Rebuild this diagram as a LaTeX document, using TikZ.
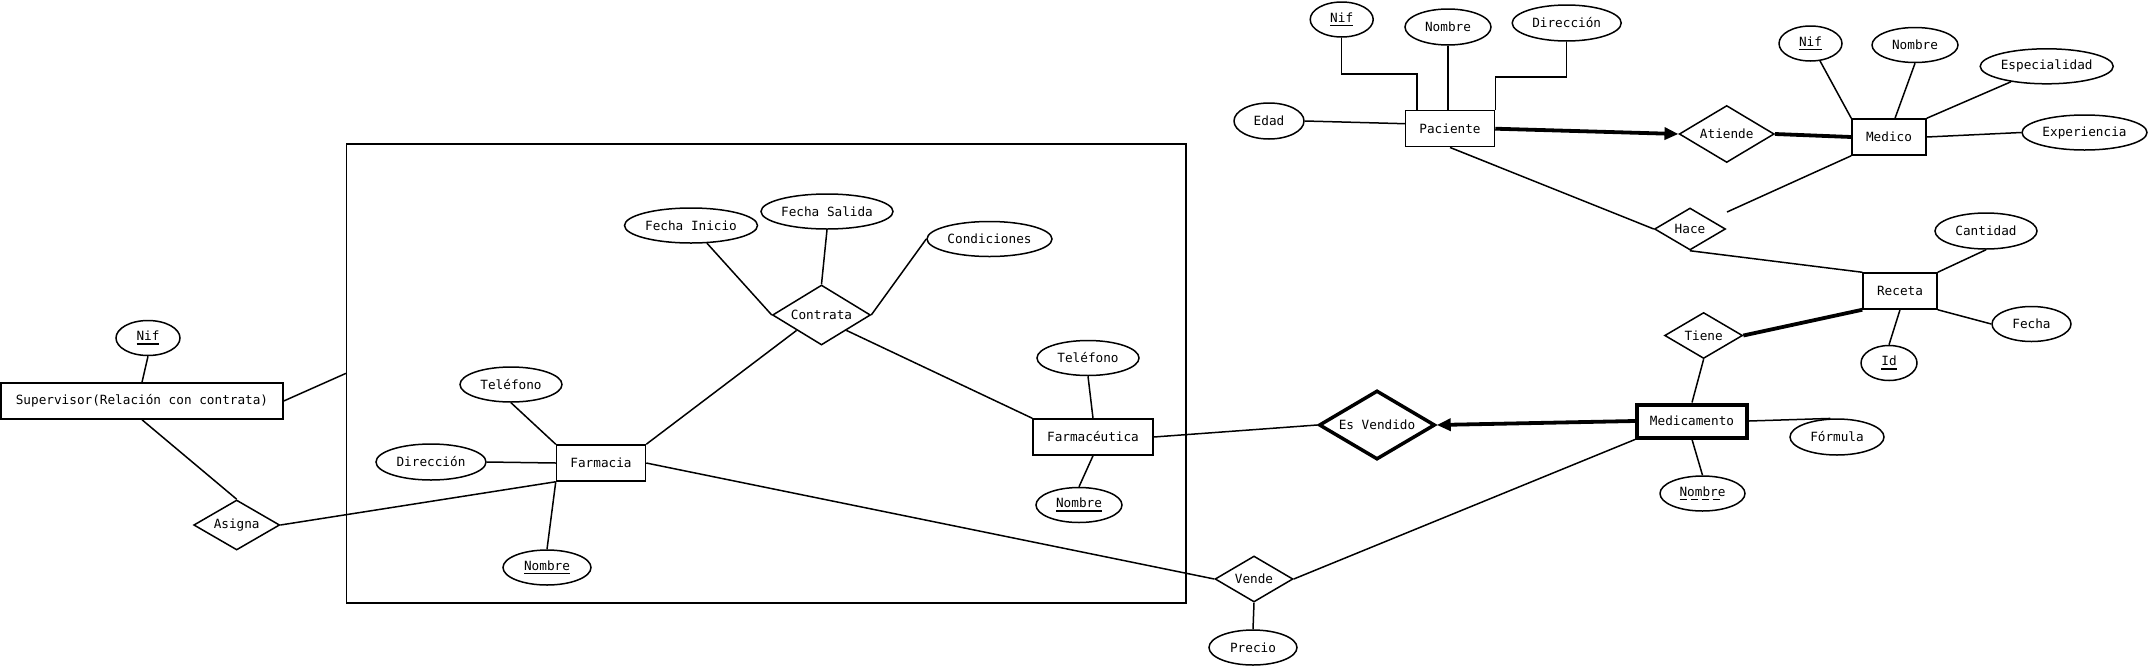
\documentclass[tikz,border=0pt]{standalone}
\usepackage{fontspec}
\setmainfont{DejaVu Sans Mono}
\usetikzlibrary{shapes.geometric,arrows.meta,calc}
\newcommand\solidkey[1]{\setbox0\hbox{#1}\vtop{\copy0\kern2.5pt\hrule height 1.6pt width \wd0}}
\newcommand\dashkey[1]{\setbox0\hbox{#1}\vtop{\copy0\nointerlineskip\kern2.5pt\hbox to \wd0{\leaders\hbox to 11pt{\vrule width 7pt height 1.6pt depth 0pt\hss}\hfill}}}
\tikzset{
 every node/.style={font=\fontsize{12.7}{15}\selectfont},
 ent/.style={draw, line width=1.5pt, rectangle, inner sep=0pt, minimum height=36pt},
 attr/.style={draw, line width=1.5pt, ellipse, inner sep=0pt},
 rel/.style={draw, line width=1.5pt, diamond, inner sep=0pt},
 conn/.style={line width=1.5pt},
 heavy/.style={line width=3.8pt},
 tip/.style={-{Triangle[length=14pt,width=12pt]}},
}
\begin{document}
\begin{tikzpicture}[x=1pt,y=-1pt]
\useasboundingbox (0,0) rectangle (2149,667);

% aggregation
\node[draw, line width=1.6pt, minimum width=839.3pt, minimum height=458.7pt, inner sep=0pt] (agg) at (766.3,373.4) {};

% entities
\node[ent, minimum width=282pt] (sup) at (142,401) {Supervisor(Relación con contrata)};
\node[ent, minimum width=89pt] (farm) at (601,463) {Farmacia};
\node[ent, minimum width=120pt] (fce) at (1093,437) {Farmacéutica};
\node[ent, minimum width=89pt] (pac) at (1450,128.7) {Paciente};
\node[ent, minimum width=74pt] (med) at (1889,137) {Medico};
\node[ent, minimum width=74pt] (rec) at (1900,291) {Receta};
\node[ent, line width=4pt, minimum width=110pt, minimum height=33pt] (mdc) at (1692,421) {Medicamento};

% relations
\node[rel, minimum width=86pt, minimum height=50pt] (asig) at (236.7,525) {\makebox[0pt]{Asigna}};
\node[rel, minimum width=98pt, minimum height=60pt] (contr) at (821.5,315) {\makebox[0pt]{Contrata}};
\node[rel, minimum width=78pt, minimum height=46pt] (vend) at (1254,579) {\makebox[0pt]{Vende}};
\node[rel, line width=3.5pt, minimum width=116pt, minimum height=69pt] (esv) at (1377,425) {\makebox[0pt]{Es Vendido}};
\node[rel, minimum width=95pt, minimum height=57pt] (atie) at (1726.7,134) {\makebox[0pt]{Atiende}};
\node[rel, minimum width=71pt, minimum height=42pt] (hace) at (1690,229) {\makebox[0pt]{Hace}};
\node[rel, minimum width=78pt, minimum height=46pt] (tiene) at (1703.6,335.5) {\makebox[0pt]{Tiene}};

% attributes
\node[attr, minimum width=64pt, minimum height=35pt] (snif) at (148,338) {\solidkey{Nif}};
\node[attr, minimum width=102pt, minimum height=35pt] (ftel) at (511,384.5) {Teléfono};
\node[attr, minimum width=110pt, minimum height=36pt] (fdir) at (431,462) {Dirección};
\node[attr, minimum width=88pt, minimum height=35pt] (fnom) at (547,567.5) {\solidkey{Nombre}};
\node[attr, minimum width=133pt, minimum height=35pt] (finic) at (691,225.5) {Fecha Inicio};
\node[attr, minimum width=132pt, minimum height=35pt] (fsal) at (827,211.5) {Fecha Salida};
\node[attr, minimum width=125pt, minimum height=35pt] (cond) at (989.5,239) {Condiciones};
\node[attr, minimum width=102pt, minimum height=35pt] (fcetel) at (1088,358) {Teléfono};
\node[attr, minimum width=86pt, minimum height=35pt] (fcenom) at (1079,505) {\solidkey{Nombre}};
\node[attr, minimum width=88pt, minimum height=35pt] (prec) at (1253,647.5) {Precio};
\node[attr, minimum width=63pt, minimum height=35pt] (pnif) at (1341.7,19.5) {\solidkey{Nif}};
\node[attr, minimum width=86pt, minimum height=36pt] (pnom) at (1448,27) {Nombre};
\node[attr, minimum width=109pt, minimum height=36pt] (pdir) at (1566.7,23) {Dirección};
\node[attr, minimum width=70pt, minimum height=36pt] (edad) at (1269,121) {Edad};
\node[attr, minimum width=63pt, minimum height=35pt] (mnif) at (1810.5,43.5) {\solidkey{Nif}};
\node[attr, minimum width=86pt, minimum height=35pt] (mnomb) at (1915,45) {Nombre};
\node[attr, minimum width=133pt, minimum height=35pt] (esp) at (2046.7,66.3) {Especialidad};
\node[attr, minimum width=125pt, minimum height=35pt] (expe) at (2084.5,132.5) {Experiencia};
\node[attr, minimum width=102pt, minimum height=36pt] (cant) at (1986,231) {Cantidad};
\node[attr, minimum width=79pt, minimum height=35pt] (fech) at (2031.5,324) {Fecha};
\node[attr, minimum width=56pt, minimum height=35pt] (rid) at (1889,363) {\solidkey{Id}};
\node[attr, minimum width=94pt, minimum height=36pt] (form) at (1837,437) {Fórmula};
\node[attr, minimum width=85pt, minimum height=35pt] (mnom) at (1702.5,493.5) {\dashkey{Nombre}};

% connectors
\draw[conn] (snif.south) -- (sup.north);
\draw[conn] (sup.east) -- (agg.west);
\draw[conn] (sup.south) -- (asig.north);
\draw[conn] (asig.east) -- (farm.south west);
\draw[conn] (ftel.south) -- (farm.north west);
\draw[conn] (fdir.east) -- (farm.west);
\draw[conn] (farm.south west) -- (fnom.north);
\draw[conn] (farm.north east) -- (contr.south west);
\draw[conn] (contr.south east) -- (fce.north west);
\draw[conn] (finic) -- (contr.west);
\draw[conn] (fsal.south) -- (contr.north);
\draw[conn] (cond.west) -- (contr.east);
\draw[conn] (fcetel.south) -- (fce.north);
\draw[conn] (fce.south) -- (fcenom.north);
\draw[conn] (fce.east) -- (esv.west);
\draw[conn] (farm.east) -- (vend.west);
\draw[conn] (vend.south) -- (prec.north);
\draw[conn] (vend.east) -- (mdc.south west);
\draw[heavy, tip] (mdc.west) -- (esv.east);
\draw[conn] (tiene.south) -- (mdc.north);
\draw[heavy] (tiene.east) -- (rec.south west);
\draw[conn] (mdc.east) -- (form.110);
\draw[conn] (mdc.south) -- (mnom.north);
\draw[conn] (hace.south) -- (rec.north west);
\draw[conn] (cant.south) -- (rec.north east);
\draw[conn] (rec.south east) -- (fech.west);
\draw[conn] (rec.south) -- (rid.north);
\draw[conn] (pac.south) -- (hace.west);
\coordinate (hend) at (1727,212);
\draw[conn] (med.south west) -- (hend);
\draw[heavy, tip] (pac.east) -- (atie.west);
\draw[heavy] (atie.east) -- (med.west);
\draw[conn] (mnif) -- (med.north west);
\draw[conn] (mnomb.south) -- ([xshift=6pt]med.north);
\draw[conn] (esp) -- (med.north east);
\draw[conn] (expe.west) -- (med.east);
\draw[conn] (edad.east) -- ([yshift=5pt]pac.west);
\draw[conn] (pnif.south) -- ++(0,36) -| ([xshift=-33pt]pac.north);
\draw[conn] (pnom.south) -- (pnom.south |- pac.north);
\draw[conn] (pdir.south) -- ++(0,35) -| (pac.north east);
\end{tikzpicture}
\end{document}
